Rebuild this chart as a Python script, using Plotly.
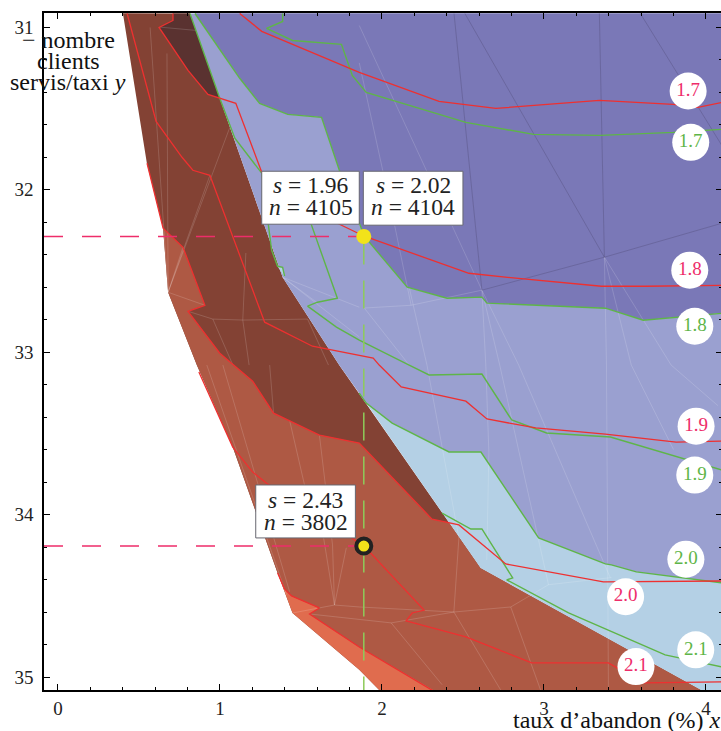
import plotly.graph_objects as go

# ---------- filled zones (x = taux d'abandon, y = clients servis/taxi) ----------
left_x = [.401, .549, .649, .680, .858, 1.079, 1.356, 1.448, 1.860, 1.983]
left_y = [30.914, 31.838, 32.238, 32.632, 33.081, 33.585, 34.360, 34.606, 34.956, 35.08]
bnd_x = [.815, .999, 1.387, 1.737, 1.860, 2.414, 2.609, 3.970]
bnd_y = [30.916, 31.438, 32.539, 33.081, 33.253, 34.049, 34.329, 35.08]

g17_x = [1.387, 1.387, 1.288, 1.448, 1.750, 1.817, 1.903, 2.518, 2.936, 3.348, 3.798, 4.099]
g17_y = [30.916, 30.965, 31.008, 31.082, 31.106, 31.297, 31.402, 31.586, 31.660, 31.666, 31.648, 31.629]
g18_x = [.846, 1.122, 1.245, 1.418, 1.627, 1.737, 1.891, 2.156, 2.402, 2.617, 2.648, 3.379, 3.613, 4.099]
g18_y = [30.916, 31.315, 31.469, 31.537, 31.555, 31.881, 32.287, 32.601, 32.669, 32.662, 32.699, 32.730, 32.804, 32.761]
g19a_x = [.815, .999, 1.092, 1.258, 1.319, 1.356, 1.387, 1.399]
g19a_y = [30.916, 31.438, 31.684, 31.899, 32.373, 32.472, 32.478, 32.533]
g19b_x = [1.522, 1.725, 1.602, 1.541, 1.719, 1.860, 2.168, 2.291, 2.617, 2.801, 3.016, 3.410, 4.099]
g19b_y = [32.097, 32.669, 32.693, 32.717, 32.846, 32.926, 33.080, 33.141, 33.135, 33.418, 33.498, 33.523, 33.726]
g20_x = [1.860, 1.903, 2.063, 2.414, 2.611, 2.967, 3.379, 3.416, 3.570, 4.099]
g20_y = [33.253, 33.314, 33.437, 33.615, 33.615, 34.144, 34.304, 34.310, 34.353, 34.421]
g21_x = [2.371, 2.549, 2.617, 2.807, 2.770, 3.152, 3.748, 4.099]
g21_y = [33.991, 34.089, 34.089, 34.390, 34.402, 34.605, 34.864, 34.938]

r17_x = [1.122, 1.258, 1.860, 2.352, 2.703, 3.342, 3.798, 3.951, 4.099]
r17_y = [30.916, 31.026, 31.279, 31.457, 31.500, 31.451, 31.475, 31.494, 31.463]
r18_x = [.710, .710, .624, .803, .926, 1.098, 1.258, 1.725, 1.891, 2.537, 2.826, 3.355, 3.626, 4.099]
r18_y = [30.916, 30.959, 31.002, 31.266, 31.414, 31.469, 31.893, 32.207, 32.287, 32.515, 32.545, 32.595, 32.595, 32.589]
r19_x = [.427, .606, .766, .833, .938, 1.276, 1.571, 1.860, 1.946, 1.983, 2.119, 2.518, 2.648, 2.949, 3.379, 3.816, 4.099]
r19_y = [30.916, 31.580, 31.801, 31.881, 31.912, 32.816, 32.964, 33.019, 33.037, 33.080, 33.215, 33.302, 33.412, 33.467, 33.505, 33.554, 33.548]
r20_x = [.550, .649, .772, .907, .803, .999, 1.202, 1.331, 1.614, 1.860, 2.309, 2.475, 2.764, 3.367, 4.099]
r20_y = [31.838, 32.238, 32.355, 32.712, 32.749, 33.007, 33.179, 33.376, 33.511, 33.560, 34.028, 34.064, 34.304, 34.415, 34.409]
r21_x = [.870, 1.079, 1.202, 1.288, 1.891, 2.260, 2.186, 2.149, 2.518, 2.924, 3.398, 3.613, 4.099]
r21_y = [33.123, 33.585, 33.739, 33.807, 34.195, 34.588, 34.606, 34.655, 34.753, 34.913, 34.913, 35.036, 35.030]
r22_x = [1.356, 1.399, 1.442, 1.614, 1.553, 1.860, 2.316]
r22_y = [34.360, 34.458, 34.501, 34.575, 34.612, 34.815, 35.085]

dark_x = [.710, .710, .624, .803, .926, .999, .815]
dark_y = [30.916, 30.959, 31.002, 31.266, 31.414, 31.438, 30.916]
med_top_x = [.649, .772, .907, .803, .999, 1.202, 1.331, 1.614, 1.860, 2.309, 2.414, 2.609, 3.970]
med_top_y = [32.238, 32.355, 32.712, 32.749, 33.007, 33.179, 33.376, 33.511, 33.560, 34.028, 34.049, 34.329, 35.08]
patch_x = [1.356, 1.387, 1.399]
patch_y = [32.474, 32.480, 32.539]

# ---------- triangulation mesh ----------
mesh_light = [
    [(3.373, 32.416), (3.386, 33.08), (3.398, 35.08)],
    [(3.373, 32.416), (3.785, 33.08), (4.074, 33.33)],
    [(3.373, 32.416), (3.539, 33.08), (3.8, 33.6)],
    [(2.617, 32.619), (2.641, 33.08), (2.66, 33.615), (2.647, 34.28)],
    [(2.617, 32.619), (2.727, 33.08), (3.028, 34.432)],
    [(2.617, 32.619), (2.844, 33.08), (3.409, 34.388)],
    [(2.168, 32.601), (2.278, 33.08), (2.475, 34.144), (2.444, 34.60)],
    [(1.891, 32.729), (2.18, 32.712), (2.617, 32.619)],
    [(1.891, 32.729), (2.168, 33.08)],
    [(1.860, 30.99), (2.617, 32.619)],
    [(1.860, 31.22), (2.07, 32.18), (2.18, 32.712)],
    [(1.387, 32.539), (1.596, 32.693)],
    [(1.387, 32.539), (1.860, 32.724)],
    [(1.387, 32.539), (1.86, 32.907)],
    [(1.707, 34.557), (1.614, 33.984)],
    [(1.707, 34.557), (1.695, 34.187)],
    [(1.707, 34.557), (1.78, 34.205)],
    [(1.448, 34.606), (1.707, 34.557), (1.86, 34.569), (2.444, 34.60), (2.795, 34.569), (3.028, 34.432), (3.416, 34.388)],
    [(1.553, 34.612), (1.86, 34.648), (2.057, 34.667), (2.444, 34.60)],
    [(2.057, 34.667), (2.371, 35.047)],
    [(2.795, 34.569), (2.979, 35.08)],
    [(2.444, 34.60), (2.733, 35.08)],
    [(.68, 32.632), (.569, 31.002)],
    [(.68, 32.632), (.673, 31.162)],
    [(.68, 32.632), (.938, 31.912)],
    [(.68, 32.632), (1.061, 31.617)],
    [(.68, 32.632), (.772, 32.355)],
    [(.68, 32.632), (.907, 32.712)],
    [(.63, 31.0), (.85, 31.02)],
    [(.803, 32.749), (.956, 32.797), (1.141, 32.803), (1.541, 32.797)],
    [(.956, 32.797), (1.08, 33.08)],
    [(1.141, 32.803), (1.18, 33.08)],
    [(1.541, 32.797), (1.67, 33.08)],
    [(1.141, 32.803), (1.16, 32.39)],
    [(.919, 33.08), (1.411, 34.494)],
    [(1.018, 33.08), (1.43, 34.475)],
    [(1.307, 33.08), (1.331, 33.376)],
    [(1.43, 33.42), (1.522, 33.818)],
    [(1.614, 33.511), (1.695, 34.187)],
]
mesh_dark = [
    [(2.445, 30.916), (2.617, 32.619), (3.373, 32.416), (4.099, 32.207)],
    [(2.512, 30.916), (3.373, 32.416), (3.342, 30.916)],
    [(3.595, 30.916), (4.012, 31.592), (4.099, 31.73)],
]

# ---------- markers / labels ----------
label_names = ["1.7", "1.7", "1.8", "1.8", "1.9", "1.9", "2.0", "2.0", "2.1", "2.1"]
label_x = [3.890, 3.906, 3.900, 3.931, 3.939, 3.931, 3.876, 3.504, 3.937, 3.568]
label_y = [31.393, 31.709, 32.496, 32.841, 33.456, 33.757, 34.275, 34.506, 34.833, 34.936]
label_side = ["r", "g", "r", "g", "r", "g", "g", "r", "g", "r"]

point_x = [1.888, 1.888]
point_y = [32.288, 34.194]

xticks = [0, 1, 2, 3, 4]
yticks = [31, 32, 33, 34, 35]
box_rows = [
    (1.258, 1.860, 31.887, 32.213, "<i>s</i> = 1.96", "<i>n</i> = 4105", 31.974, 32.110),
    (1.885, 2.500, 31.887, 32.219, "<i>s</i> = 2.02", "<i>n</i> = 4104", 31.974, 32.110),
    (1.221, 1.836, 33.818, 34.144, "<i>s</i> = 2.43", "<i>n</i> = 3802", 33.911, 34.046),
]

RED = "#ee3030"
PINK = "#ee2d6a"
GREEN = "#5eb548"
SERIF = "Liberation Serif"
XMAX = 4.099

fig = go.Figure()


def poly(xs, ys, color):
    fig.add_trace(go.Scatter(x=xs, y=ys, mode="lines", fill="toself", fillcolor=color,
                             line=dict(width=0), hoverinfo="skip"))


def line(xs, ys, color, width=1.3, dash=None):
    fig.add_trace(go.Scatter(x=xs, y=ys, mode="lines", hoverinfo="skip",
                             line=dict(color=color, width=width, dash=dash)))


# brown family
poly(left_x + bnd_x[::-1], left_y + bnd_y[::-1], "#834234")
poly(med_top_x + r22_x[::-1] + left_x[5:2:-1],
     med_top_y + r22_y[::-1] + left_y[5:2:-1], "#ae5944")
poly(r22_x + [1.983, 1.860, 1.448], r22_y[:-1] + [35.08, 35.08, 34.956, 34.606], "#e06c4e")
poly(dark_x, dark_y, "#5a3230")

# blue family
poly(g18_x + [XMAX, .846], g18_y + [30.914, 30.914], "#7a78b7")
poly(bnd_x[:5] + g20_x[1:] + g18_x[::-1],
     bnd_y[:5] + g20_y[1:] + g18_y[::-1], "#9aa0d0")
poly(bnd_x[4:] + [XMAX] + g20_x[::-1],
     bnd_y[4:] + [35.08] + g20_y[::-1], "#b4d0e5")
poly(patch_x, patch_y, "#b4d0e5")

# mesh
for seg in mesh_light:
    line([p[0] for p in seg], [p[1] for p in seg], "rgba(255,255,255,0.22)", 0.7)
for seg in mesh_dark:
    line([p[0] for p in seg], [p[1] for p in seg], "rgba(85,80,125,0.6)", 0.7)

# contours
for xs, ys in [(g17_x, g17_y), (g18_x, g18_y), (g19a_x, g19a_y), (g19b_x, g19b_y),
               (g20_x, g20_y), (g21_x, g21_y)]:
    line(xs, ys, GREEN, 1.4)
for xs, ys in [(r17_x, r17_y), (r18_x, r18_y), (r19_x, r19_y), (r20_x, r20_y),
               (r21_x, r21_y), (r22_x, r22_y)]:
    line(xs, ys, RED, 1.3)

# guide dashes
line([-0.086, point_x[0]], [point_y[0], point_y[0]], PINK, 1.5, "19px,19px")
line([-0.086, point_x[1]], [point_y[1], point_y[1]], PINK, 1.5, "19px,19px")
line([point_x[0], point_x[0]], [point_y[0], 35.08], "#8ecb5a", 1.5, "28px,16px")

# points
fig.add_trace(go.Scatter(x=point_x[:1], y=point_y[:1], mode="markers", hoverinfo="skip",
                         marker=dict(size=15, color="#f2e21a", line=dict(width=0))))
fig.add_trace(go.Scatter(x=point_x[1:], y=point_y[1:], mode="markers", hoverinfo="skip",
                         marker=dict(size=15, color="#f2e21a", line=dict(width=4, color="#222222"))))

# white contour labels
fig.add_trace(go.Scatter(
    x=label_x, y=label_y, mode="markers+text", text=label_names, textposition="middle center",
    hoverinfo="skip",
    marker=dict(size=37, color="white", line=dict(width=0)),
    textfont=dict(family=SERIF, size=19, color=[PINK if s == "r" else GREEN for s in label_side]),
))

# boxes
for x0, x1, y0, y1, s_txt, n_txt, y_s, y_n in box_rows:
    fig.add_shape(type="rect", x0=x0, x1=x1, y0=y0, y1=y1, layer="above",
                  fillcolor="white", line=dict(color="#666670", width=1))
    xc = (x0 + x1) / 2
    for txt, yy in [(s_txt, y_s), (n_txt, y_n)]:
        fig.add_annotation(x=xc, y=yy, text=txt, showarrow=False, xanchor="center", yanchor="middle",
                           font=dict(family=SERIF, size=23.5, color="#222222"))

# axis titles, written as text in paper space
PW, PH = 680.5, 677.8
for txt, px, py in [("− nombre", 68, 40), ("clients", 68, 61), ("servis/taxi <i>y</i>", 68, 82)]:
    fig.add_annotation(xref="paper", yref="paper", x=(px - 43.5) / PW, y=(690.3 - py) / PH,
                       text=txt, showarrow=False, xanchor="center", yanchor="middle",
                       font=dict(family=SERIF, size=24, color="#111111"))
fig.add_annotation(xref="paper", yref="paper", x=(725 - 43.5) / PW, y=(690.3 - 720) / PH,
                   text="taux d’abandon (%) <i>x</i>", showarrow=False, xanchor="right", yanchor="middle",
                   font=dict(family=SERIF, size=24, color="#111111"))

axis_common = dict(showgrid=False, zeroline=False, showline=True, linecolor="black", linewidth=1.5,
                   mirror="ticks", ticks="inside", ticklen=6, tickwidth=1, tickcolor="black",
                   tickfont=dict(family=SERIF, size=19, color="#222222"))
fig.update_xaxes(range=[-0.086, XMAX], tickvals=xticks, ticktext=[str(v) for v in xticks],
                 ticklabelstandoff=0,
                 minor=dict(dtick=0.2, ticks="inside", ticklen=3.5, tickcolor="black", tickwidth=1),
                 **axis_common)
fig.update_yaxes(range=[35.08, 30.913], tickvals=yticks, ticktext=[str(v) for v in yticks],
                 ticklabelstandoff=5,
                 minor=dict(dtick=0.2, ticks="inside", ticklen=3.5, tickcolor="black", tickwidth=1),
                 **axis_common)
fig.update_layout(width=724, height=731, showlegend=False, plot_bgcolor="white", paper_bgcolor="white",
                  margin=dict(l=43.5, r=0, t=12.5, b=40.7))

fig.write_html("out.html", config={"displayModeBar": False},
               post_script="document.body.style.margin='0';document.body.style.overflow='hidden';")
